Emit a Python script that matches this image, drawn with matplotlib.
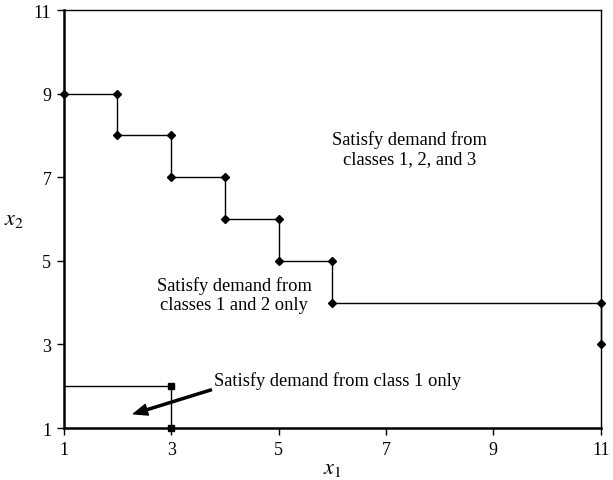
import matplotlib
matplotlib.use('Agg')
import matplotlib.pyplot as pyplot

pyplot.rcParams['font.family'] = 'Liberation Serif'
pyplot.rcParams['mathtext.fontset'] = 'stix'

# Boundary between class 1+2 and class 1+2+3 regions
stair_x = [1, 2, 2, 3, 3, 4, 4, 5, 5, 6, 6, 11, 11]
stair_y = [9, 9, 8, 8, 7, 7, 6, 6, 5, 5, 4, 4, 3]

# Boundary of class 1 only region
low_x = [1, 3, 3]
low_y = [2, 2, 1]

ticks = [1, 3, 5, 7, 9, 11]

figure = pyplot.figure(figsize=(6.13, 4.81), dpi=100)
ax = figure.add_axes([0.104, 0.108, 0.876, 0.869])

ax.plot(stair_x, stair_y, c='k', linewidth=1.0, marker='D', markersize=4, clip_on=False, zorder=3)
ax.plot(low_x, low_y, c='k', linewidth=1.0)
ax.plot(low_x[1:], low_y[1:], c='k', ls='None', marker='s', markersize=4, clip_on=False, zorder=3)

ax.set_xlim(1, 11)
ax.set_ylim(1, 11)
ax.set_xticks(ticks)
ax.set_yticks(ticks)
ax.tick_params(direction='out', length=5, width=1, labelsize=13, pad=4)

for side in ['left', 'bottom']:
    ax.spines[side].set_linewidth(1.8)
for side in ['top', 'right']:
    ax.spines[side].set_linewidth(1.0)

ax.set_xlabel('$x_1$', fontsize=16, labelpad=1)
ax.set_ylabel('$x_2$', fontsize=16, rotation=0, labelpad=14, va='center')

ax.text(7.44, 7.69, 'Satisfy demand from\nclasses 1, 2, and 3', fontsize=13.3,
        ha='center', va='center', linespacing=1.15)
ax.text(4.17, 4.19, 'Satisfy demand from\nclasses 1 and 2 only', fontsize=13.3,
        ha='center', va='center', linespacing=1.15)
ax.annotate('Satisfy demand from class 1 only', xy=(2.3, 1.34), xytext=(3.8, 2.15),
            fontsize=13.3, ha='left', va='center',
            arrowprops=dict(facecolor='k', edgecolor='k', width=1.5, headwidth=8,
                            headlength=10, shrink=0.0))

figure.savefig('out.png', dpi=100)
